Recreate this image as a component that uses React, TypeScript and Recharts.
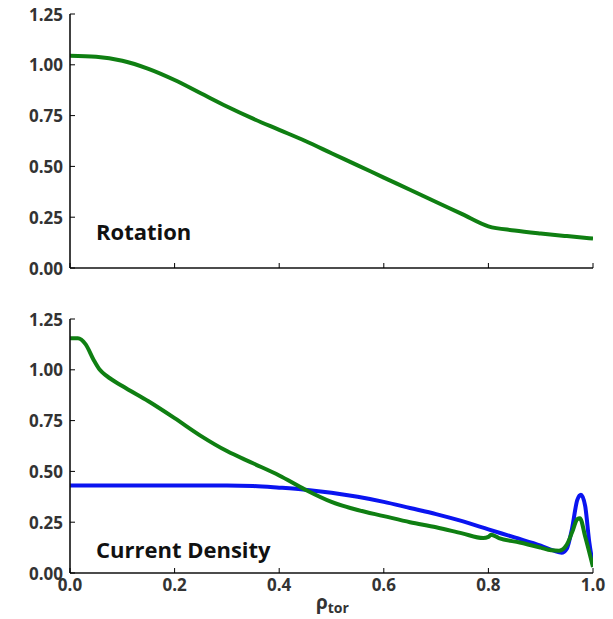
import React from "react";
import { LineChart, Line, XAxis, YAxis } from "recharts";

const xTicks = [0, 0.2, 0.4, 0.6, 0.8, 1.0];
const yTicks = [0, 0.25, 0.5, 0.75, 1.0, 1.25];

const rotRho = [0, 0.05, 0.1, 0.15, 0.2, 0.25, 0.3, 0.35, 0.4, 0.45, 0.5, 0.55, 0.6, 0.65, 0.7, 0.75, 0.8, 0.85, 0.9, 0.95, 1.0];
const rotVal = [1.045, 1.04, 1.02, 0.98, 0.925, 0.86, 0.795, 0.735, 0.68, 0.625, 0.565, 0.505, 0.445, 0.385, 0.325, 0.265, 0.205, 0.185, 0.17, 0.157, 0.145];

const jGreenRho = [0, 0.015, 0.03, 0.045, 0.057, 0.07, 0.1, 0.15, 0.2, 0.25, 0.3, 0.35, 0.4, 0.45, 0.5, 0.55, 0.6, 0.65, 0.7, 0.75, 0.79, 0.8, 0.805, 0.82, 0.86, 0.9, 0.92, 0.935, 0.95, 0.96, 0.97, 0.975, 0.985, 1.0];
const jGreenVal = [1.155, 1.155, 1.125, 1.05, 1.0, 0.97, 0.92, 0.845, 0.762, 0.675, 0.6, 0.54, 0.48, 0.41, 0.35, 0.31, 0.28, 0.25, 0.225, 0.195, 0.172, 0.178, 0.188, 0.172, 0.15, 0.125, 0.112, 0.11, 0.14, 0.2, 0.265, 0.27, 0.18, 0.03];

const jBlueRho = [0, 0.1, 0.2, 0.3, 0.35, 0.4, 0.45, 0.5, 0.55, 0.6, 0.65, 0.7, 0.75, 0.8, 0.85, 0.9, 0.925, 0.94, 0.95, 0.96, 0.97, 0.977, 0.985, 0.993, 1.0];
const jBlueVal = [0.43, 0.43, 0.43, 0.43, 0.428, 0.42, 0.41, 0.395, 0.375, 0.35, 0.32, 0.29, 0.255, 0.215, 0.175, 0.135, 0.11, 0.1, 0.12, 0.22, 0.36, 0.385, 0.33, 0.15, 0.04];

const toData = (xs: number[], ys: number[]) => xs.map((r, i) => ({ rho: r, v: ys[i] }));
const rotData = toData(rotRho, rotVal);
const greenData = toData(jGreenRho, jGreenVal);
const blueData = toData(jBlueRho, jBlueVal);

const FONT = "'Open Sans', 'Noto Sans', sans-serif";
const TICK_COLOR = "#333";
const TL = 5;

const LeftTick = (p: any) => (
  <g>
    <line x1={p.x} y1={p.y} x2={p.x + TL} y2={p.y} stroke="#000" strokeWidth={1} />
    <text x={p.x - 7} y={p.y} textAnchor="end" dominantBaseline="central" fontFamily={FONT} fontWeight={700} fontSize={17} fill={TICK_COLOR}>
      {Number(p.payload.value).toFixed(2)}
    </text>
  </g>
);
const RightTick = (p: any) => (
  <g>
    <line x1={p.x} y1={p.y} x2={p.x - TL} y2={p.y} stroke="#000" strokeWidth={1} />
  </g>
);
const TopTick = (p: any) => (
  <g>
    <line x1={p.x} y1={p.y} x2={p.x} y2={p.y + TL} stroke="#000" strokeWidth={1} />
  </g>
);
const BottomTickNoLabel = (p: any) => (
  <g>
    <line x1={p.x} y1={p.y} x2={p.x} y2={p.y - TL} stroke="#000" strokeWidth={1} />
  </g>
);
const BottomTick = (p: any) => (
  <g>
    <line x1={p.x} y1={p.y} x2={p.x} y2={p.y - TL} stroke="#000" strokeWidth={1} />
    <text x={p.x} y={p.y + 11} textAnchor="middle" dominantBaseline="central" fontFamily={FONT} fontWeight={700} fontSize={17} fill={TICK_COLOR}>
      {Number(p.payload.value).toFixed(1)}
    </text>
  </g>
);

const axisLine = { stroke: "#111", strokeWidth: 1.6 };

function Frame(showXLabels: boolean) {
  return [
    <XAxis key="xb" xAxisId="b" dataKey="rho" type="number" domain={[0, 1]} ticks={xTicks} tickSize={0} tickMargin={0} tickLine={false} axisLine={axisLine} height={showXLabels ? 46 : 32} tick={showXLabels ? BottomTick : BottomTickNoLabel} interval={0} allowDataOverflow />,
    <XAxis key="xt" xAxisId="t" orientation="top" dataKey="rho" type="number" domain={[0, 1]} ticks={xTicks} tickSize={0} tickMargin={0} tickLine={false} axisLine={axisLine} height={0} tick={TopTick} interval={0} allowDataOverflow />,
    <YAxis key="yl" yAxisId="l" type="number" domain={[0, 1.25]} ticks={yTicks} tickSize={0} tickMargin={0} tickLine={false} axisLine={axisLine} width={70} tick={LeftTick} interval={0} allowDataOverflow />,
    <YAxis key="yr" yAxisId="r" orientation="right" type="number" domain={[0, 1.25]} ticks={yTicks} tickSize={0} tickMargin={0} tickLine={false} axisLine={axisLine} width={0} tick={RightTick} interval={0} allowDataOverflow />,
  ];
}

const GREEN = "#0f7f12";
const BLUE = "#0a14f0";

const labelStyle: React.CSSProperties = {
  position: "absolute",
  fontFamily: FONT,
  fontWeight: 700,
  fontSize: 22,
  color: "#111",
  whiteSpace: "nowrap",
  lineHeight: 1,
};

export default function App() {
  return (
    <div style={{ position: "absolute", left: 0, top: 0, width: 613, height: 619, background: "#fff", overflow: "hidden" }}>
      <div style={{ position: "absolute", left: 0, top: 0 }}>
        <LineChart width={613} height={300} margin={{ top: 14, right: 20, bottom: 0, left: 0 }}>
          {Frame(false)}
          <Line xAxisId="b" yAxisId="l" data={rotData} dataKey="v" type="monotone" stroke={GREEN} strokeWidth={4} dot={false} isAnimationActive={false} />
        </LineChart>
      </div>
      <div style={{ position: "absolute", left: 0, top: 300 }}>
        <LineChart width={613} height={319} margin={{ top: 19, right: 20, bottom: 0, left: 0 }}>
          {Frame(true)}
          <Line xAxisId="b" yAxisId="l" data={blueData} dataKey="v" type="monotone" stroke={BLUE} strokeWidth={4} dot={false} isAnimationActive={false} />
          <Line xAxisId="b" yAxisId="l" data={greenData} dataKey="v" type="monotone" stroke={GREEN} strokeWidth={4} dot={false} isAnimationActive={false} />
        </LineChart>
      </div>
      <div style={{ ...labelStyle, left: 96, top: 220 }}>Rotation</div>
      <div style={{ ...labelStyle, left: 96, top: 538 }}>Current Density</div>
      <div style={{ position: "absolute", left: 316, top: 593, fontFamily: FONT, fontWeight: 700, fontSize: 19, color: "#333", lineHeight: 1, whiteSpace: "nowrap" }}>
        ρ<span style={{ fontSize: 14, position: "relative", top: 4 }}>tor</span>
      </div>
    </div>
  );
}
